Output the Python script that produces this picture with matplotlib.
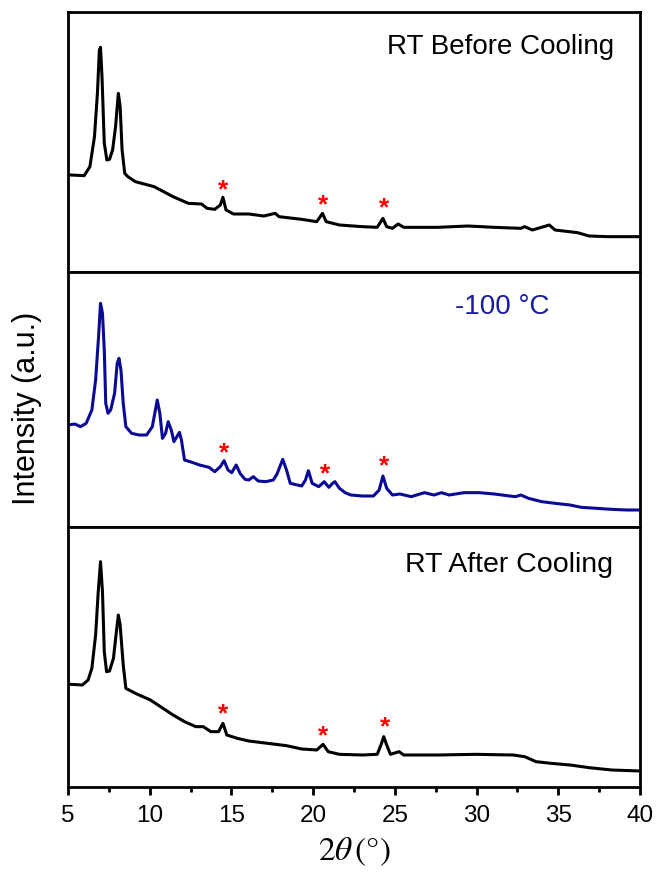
import matplotlib
matplotlib.use("Agg")
import matplotlib.pyplot as plt

plt.rcParams['font.family'] = ['Liberation Sans', 'DejaVu Sans']
plt.rcParams['mathtext.fontset'] = 'stix'

# ---- data (2theta in degrees, intensity in arbitrary units) ----
before_x = [5.00, 5.19, 5.99, 6.34, 6.62, 6.80, 6.92, 6.99, 7.08, 7.22, 7.38, 7.54, 7.73, 7.91,
            8.08, 8.19, 8.31, 8.47, 8.66, 9.12, 10.27, 11.43, 12.36, 13.17, 13.51, 13.98, 14.32,
            14.48, 14.67, 15.13, 16.06, 16.98, 17.68, 17.91, 19.30, 20.22, 20.57, 20.80, 21.61,
            23.00, 23.92, 24.27, 24.50, 24.85, 25.20, 25.54, 27.62, 29.47, 31.09, 32.71, 32.94,
            33.41, 34.45, 34.80, 36.18, 36.88, 38.03, 40.00]
before_y = [291, 291, 289, 316, 406, 536, 666, 674, 586, 386, 336, 338, 366, 436,
            536, 496, 366, 296, 286, 271, 256, 226, 206, 204, 191, 188, 201,
            224, 186, 174, 174, 168, 176, 166, 158, 151, 176, 151, 141,
            136, 134, 161, 136, 131, 144, 134, 134, 138, 134, 131, 136,
            126, 141, 126, 118, 108, 106, 106]

cold_x = [5.00, 5.42, 5.76, 6.11, 6.46, 6.69, 6.87, 6.99, 7.11, 7.22, 7.31, 7.45, 7.61, 7.85,
          8.01, 8.12, 8.24, 8.38, 8.54, 8.89, 9.35, 9.81, 10.16, 10.46, 10.62, 10.78, 10.97,
          11.13, 11.32, 11.48, 11.66, 11.82, 11.94, 12.13, 12.47, 13.05, 13.63, 13.98, 14.32,
          14.55, 14.79, 15.02, 15.29, 15.53, 15.83, 16.06, 16.34, 16.64, 17.10, 17.56, 17.79,
          18.14, 18.37, 18.60, 19.30, 19.53, 19.71, 19.94, 20.34, 20.68, 20.96, 21.19, 21.33,
          21.61, 21.96, 22.30, 23.00, 23.69, 24.04, 24.27, 24.50, 24.85, 25.31, 26.00, 26.81,
          27.39, 27.86, 28.32, 29.24, 30.17, 31.09, 32.02, 32.37, 32.71, 33.18, 33.99, 34.80,
          35.72, 36.41, 37.34, 38.27, 39.19, 40.00]
cold_y = [306, 309, 301, 311, 351, 441, 571, 671, 641, 531, 371, 341, 351, 401,
          491, 506, 471, 371, 301, 281, 276, 276, 301, 381, 341, 266, 281,
          316, 291, 256, 271, 284, 261, 201, 196, 186, 179, 166, 181,
          199, 171, 163, 186, 161, 143, 141, 151, 138, 136, 141, 159,
          203, 171, 131, 123, 141, 169, 131, 121, 136, 119, 131, 136,
          116, 103, 96, 93, 93, 111, 153, 116, 96, 99, 91, 103,
          96, 103, 96, 103, 103, 99, 93, 91, 96, 86, 76, 71,
          66, 59, 56, 53, 51, 51]

after_x = [5.00, 5.19, 5.88, 6.23, 6.46, 6.69, 6.85, 6.99, 7.11, 7.22, 7.36, 7.54, 7.78, 7.96,
           8.08, 8.19, 8.38, 8.54, 9.12, 10.04, 10.97, 11.43, 12.13, 12.82, 13.28, 13.74, 14.21,
           14.48, 14.72, 15.36, 16.06, 17.21, 18.37, 19.30, 20.22, 20.61, 20.92, 21.61, 23.00,
           23.92, 24.15, 24.32, 24.50, 24.73, 25.26, 25.54, 27.62, 29.94, 32.25, 32.94, 33.64,
           34.56, 35.72, 36.88, 38.27, 40.00]
after_y = [308, 308, 306, 321, 356, 456, 586, 676, 586, 406, 346, 348, 386, 466,
           516, 486, 366, 296, 281, 261, 231, 216, 196, 181, 181, 166, 166,
           191, 156, 146, 138, 131, 124, 114, 111, 128, 106, 98, 96,
           98, 126, 151, 126, 98, 106, 96, 96, 98, 96, 91, 76,
           71, 66, 58, 51, 48]

# asterisk marks (2theta, height)
before_star_x = [14.48, 20.61, 24.32]
before_star_y = [254, 208, 198]
cold_star_x = [14.55, 20.75, 24.32]
cold_star_y = [228, 166, 191]
after_star_x = [14.48, 20.61, 24.39]
after_star_y = [226, 161, 186]

panel_labels = ["RT Before Cooling", "-100 \u00b0C", "RT After Cooling"]
xticks = [5, 10, 15, 20, 25, 30, 35, 40]
minor_xticks = [7.5, 12.5, 17.5, 22.5, 27.5, 32.5, 37.5]

# ---- figure ----
W, H = 656, 872
fig = plt.figure(figsize=(W / 100, H / 100), dpi=100)
left, right = 68 / W, 640 / W
edges = [12, 272, 527, 787]

navy = '#0a0a96'
series = [
    (before_x, before_y, before_star_x, before_star_y, 'black', (0, 780)),
    (cold_x, cold_y, cold_star_x, cold_star_y, navy, (0, 765)),
    (after_x, after_y, after_star_x, after_star_y, 'black', (0, 780)),
]

axes = []
for i, (xs, ys, sx, sy, col, ylim) in enumerate(series):
    top, bot = edges[i], edges[i + 1]
    ax = fig.add_axes([left, 1 - bot / H, right - left, (bot - top) / H])
    ax.plot(xs, ys, color=col, lw=2.2, solid_joinstyle='round')
    for x0, y0 in zip(sx, sy):
        ax.text(x0, y0 - 8, '*', color='red', fontsize=19, ha='center', va='center',
                fontweight='bold')
    ax.set_xlim(5, 40)
    ax.set_ylim(*ylim)
    ax.set_yticks([])
    for s in ax.spines.values():
        s.set_linewidth(2.0)
    axes.append(ax)

axes[0].text(0.955, 0.867, panel_labels[0], transform=axes[0].transAxes,
             ha='right', va='center', fontsize=20)
axes[1].text(0.677, 0.864, panel_labels[1], transform=axes[1].transAxes,
             ha='left', va='center', fontsize=20, color='#1a1aa0')
axes[2].text(0.952, 0.852, panel_labels[2], transform=axes[2].transAxes,
             ha='right', va='center', fontsize=20.5)

for ax in axes[:2]:
    ax.set_xticks([])
ax = axes[2]
ax.set_xticks(xticks)
ax.set_xticks(minor_xticks, minor=True)
ax.tick_params(axis='x', which='major', direction='out', length=6, width=2.0,
               labelsize=17.5, pad=7)
ax.tick_params(axis='x', which='minor', direction='out', length=3.5, width=2.0)
ax.set_xlabel(r'$2\theta\,(\degree)$', fontsize=24, labelpad=6)

fig.text(27 / W, 1 - 408 / H, 'Intensity (a.u.)', rotation=90, ha='center',
         va='center', fontsize=22)

fig.savefig('out.png', dpi=100)
